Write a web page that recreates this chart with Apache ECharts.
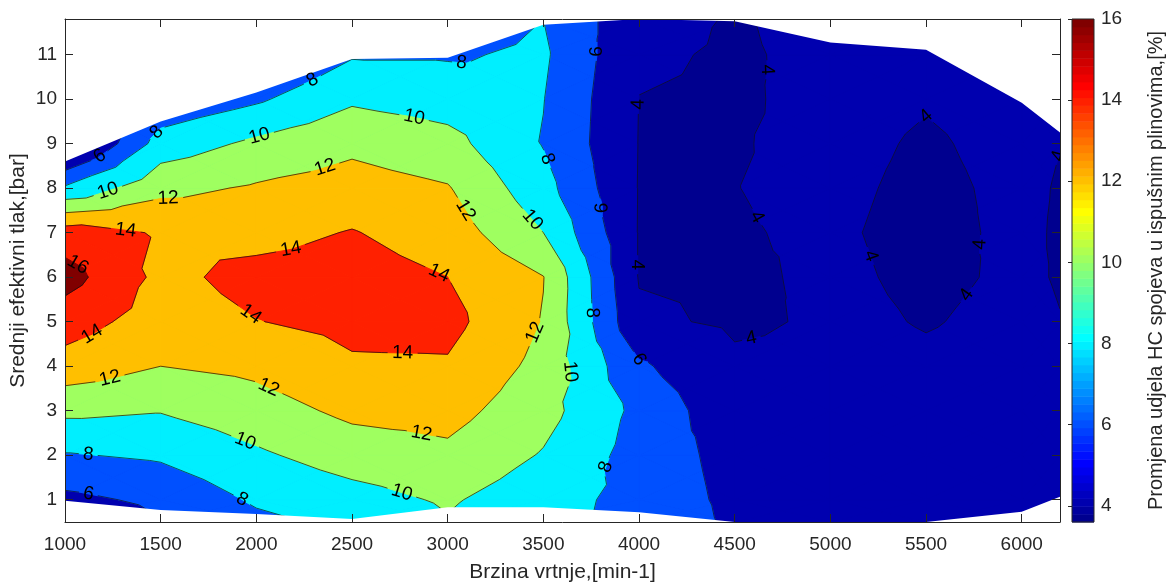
<!DOCTYPE html>
<html>
<head>
<meta charset="utf-8">
<title>Promjena udjela HC spojeva</title>
<script src="https://cdn.jsdelivr.net/npm/echarts@6/dist/echarts.min.js"></script>
<style>
  html, body { margin: 0; padding: 0; background: #fff; }
  #chart { width: 1170px; height: 583px; }
</style>
</head>
<body>
<div id="chart"></div>
<script>
// ---------------------------------------------
//  Data
// ---------------------------------------------

// engine speed, min-1 (grid columns)
const speeds = [1000, 1500, 2000, 2500, 3000, 3500, 4000, 4500, 5000, 5500, 6000, 6200];
// mean effective pressure, bar (grid rows, bottom -> top)
const pressures = [0.5, 1, 2, 3, 4, 5, 6, 7, 8, 9, 10, 11, 11.8];

// HC change [%] along each speed column, one value per pressure row
const hc1000 = [4.3, 5.5, 7.86, 10.44, 13.22, 14.9, 16.8, 15.0, 8.3, 2.5, 2.0, 2.0, 2.0];
const hc1500 = [5.9, 6.4, 8.3, 10.1, 12.0, 13.1, 13.5, 13.8, 11.45, 8.85, 6.4, 4.5, 3.2];
const hc2000 = [7.55, 8.27, 9.7, 11.12, 12.48, 13.95, 14.6, 13.37, 12.22, 10.4, 7.7, 5.5, 4.0];
const hc2500 = [8.4, 9.24, 10.92, 12.46, 13.75, 14.5, 14.8, 14.1, 12.86, 11.54, 9.7, 7.8, 6.3];
const hc3000 = [9.85, 10.24, 11.56, 12.71, 13.78, 14.6, 14.0, 13.07, 12.14, 10.67, 9.1, 7.8, 7.0];
const hc3500 = [8.3, 8.8, 9.85, 10.7, 11.4, 11.9, 12.05, 10.0, 8.7, 7.9, 8.05, 8.3, 8.0];
const hc4000 = [7.7, 7.36, 7.2, 7.5, 6.3, 4.3, 3.9, 3.9, 3.92, 3.95, 3.98, 4.2, 4.5];
const hc4500 = [5.6, 5.5, 5.3, 4.6, 4.3, 3.75, 3.85, 3.95, 3.99, 3.95, 3.88, 3.85, 3.9];
const hc5000 = [4.8, 4.7, 4.6, 4.5, 4.35, 4.2, 4.15, 4.1, 4.15, 4.2, 4.25, 4.3, 4.4];
const hc5500 = [4.6, 4.5, 4.4, 4.3, 4.15, 3.95, 3.85, 3.8, 3.85, 3.92, 4.05, 4.2, 4.3];
const hc6000 = [4.5, 4.5, 4.4, 4.35, 4.3, 4.2, 4.12, 4.15, 4.15, 4.2, 4.25, 4.3, 4.4];
const hc6200 = [4.4, 4.35, 4.3, 4.2, 4.1, 4.02, 3.95, 3.92, 3.95, 4.01, 4.1, 4.2, 4.3];
const hcColumns = [hc1000, hc1500, hc2000, hc2500, hc3000, hc3500, hc4000, hc4500, hc5000, hc5500, hc6000, hc6200];

// edges of the measured region, per speed column
const topEdge = [8.6, 9.5, 10.15, 10.9, 10.93, 11.67, 11.8, 11.75, 11.27, 11.11, 9.92, 9.25];
const bottomEdge = [0.98, 0.77, 0.68, 0.57, 0.83, 0.83, 0.72, 0.5, 0.5, 0.5, 0.73, 1.07];

const levels = [4, 6, 8, 10, 12, 14, 16];
const speedTicks = [1000, 1500, 2000, 2500, 3000, 3500, 4000, 4500, 5000, 5500, 6000];
const pressureTicks = [1, 2, 3, 4, 5, 6, 7, 8, 9, 10, 11];
const colorTicks = [4, 6, 8, 10, 12, 14, 16];
const colorRange = [3.6, 16];

// inline contour labels: [speed, pressure, level]
const labelSpots = [
  [1168, 8.8, 6], [1497, 9.18, 8], [1215, 8.06, 10], [1539, 7.81, 12], [1319, 7.11, 14],
  [1089, 6.44, 16], [1173, 4.48, 14], [1236, 3.7, 12], [1120, 1.94, 8], [1120, 1.07, 6],
  [1916, 0.93, 8], [1937, 2.26, 10], [2052, 3.4, 12], [1958, 5.09, 14], [2183, 6.57, 14],
  [2021, 9.09, 10], [2351, 8.57, 12], [2283, 10.51, 8], [2822, 9.54, 10], [3073, 10.84, 8],
  [2963, 6.17, 14], [2764, 4.19, 14], [2859, 2.39, 12], [2754, 1.07, 10], [3100, 7.52, 12],
  [3424, 4.82, 12], [3443, 7.29, 10], [3644, 3.88, 10], [3471, 8.57, 8], [3759, 5.2, 8],
  [3838, 1.72, 8], [3791, 11.07, 6], [3754, 7.56, 6], [3990, 4.1, 6], [4011, 9.88, 4],
  [3979, 6.28, 4], [4670, 10.66, 4], [4545, 7.18, 4], [4597, 4.42, 4], [5492, 9.7, 4],
  [5199, 6.46, 4], [5723, 6.75, 4], [5718, 5.58, 4], [6131, 8.8, 4]
];

// ---------------------------------------------
//  Helpers
// ---------------------------------------------
const FONT = '"Liberation Sans", Arial, Helvetica, sans-serif';
const INK = '#262626';

// MATLAB style jet(64), i = 1..64
function jetIndex(i) {
  const r = i <= 24 ? 0 : i <= 40 ? (i - 24) / 16 : i <= 56 ? 1 : 1 - (i - 56) / 16;
  const g = i <= 8 ? 0 : i <= 24 ? (i - 8) / 16 : i <= 40 ? 1 : i <= 56 ? (56 - i) / 16 : 0;
  const b = i <= 8 ? (i + 8) / 16 : i <= 24 ? 1 : i <= 40 ? (40 - i) / 16 : 0;
  return 'rgb(' + Math.round(r * 255) + ',' + Math.round(g * 255) + ',' + Math.round(b * 255) + ')';
}
function jetColor(v) {
  const t = (v - colorRange[0]) / (colorRange[1] - colorRange[0]);
  return jetIndex(Math.min(64, Math.max(1, Math.floor(t * 64) + 1)));
}

// keep the part of a polygon where value >= L
function clipAbove(poly, L) {
  const out = [];
  for (let k = 0; k < poly.length; k++) {
    const p = poly[k], q = poly[(k + 1) % poly.length];
    const pin = p[2] >= L, qin = q[2] >= L;
    if (pin) out.push(p);
    if (pin !== qin) {
      const t = (L - p[2]) / (q[2] - p[2]);
      out.push([p[0] + t * (q[0] - p[0]), p[1] + t * (q[1] - p[1]), L]);
    }
  }
  return out;
}

function crossing(tri, L) {
  const hits = [];
  for (let k = 0; k < 3; k++) {
    const p = tri[k], q = tri[(k + 1) % 3];
    if ((p[2] >= L) !== (q[2] >= L)) {
      const t = (L - p[2]) / (q[2] - p[2]);
      hits.push([p[0] + t * (q[0] - p[0]), p[1] + t * (q[1] - p[1])]);
    }
  }
  return hits.length === 2 ? hits : null;
}

function nearestOn(a, b, c) {
  const dx = b[0] - a[0], dy = b[1] - a[1];
  const len2 = dx * dx + dy * dy || 1e-9;
  let t = ((c[0] - a[0]) * dx + (c[1] - a[1]) * dy) / len2;
  t = Math.max(0, Math.min(1, t));
  const x = a[0] + t * dx, y = a[1] + t * dy;
  return { x: x, y: y, d: Math.hypot(x - c[0], y - c[1]) };
}

// remove the bit of each segment inside a circle (gap for the label)
function cutAround(pieces, cx, cy, r) {
  const out = [];
  pieces.forEach(function(seg) {
    const a = seg[0], b = seg[1];
    const dx = b[0] - a[0], dy = b[1] - a[1];
    const fx = a[0] - cx, fy = a[1] - cy;
    const A = dx * dx + dy * dy, B = 2 * (fx * dx + fy * dy), C = fx * fx + fy * fy - r * r;
    const disc = B * B - 4 * A * C;
    if (A < 1e-9 || disc <= 0) { out.push(seg); return; }
    const s = Math.sqrt(disc);
    const t1 = (-B - s) / (2 * A), t2 = (-B + s) / (2 * A);
    if (t2 <= 0 || t1 >= 1) { out.push(seg); return; }
    if (t1 > 0) out.push([a, [a[0] + t1 * dx, a[1] + t1 * dy]]);
    if (t2 < 1) out.push([[a[0] + t2 * dx, a[1] + t2 * dy], b]);
  });
  return out;
}

// ---------------------------------------------
//  Contour drawing
// ---------------------------------------------
function renderContours(params, api) {
  const nodes = speeds.map(function(s, i) {
    return pressures.map(function(p, j) {
      const c = api.coord([s, p]);
      return [c[0], c[1], hcColumns[i][j]];
    });
  });

  const tris = [];
  for (let i = 0; i < speeds.length - 1; i++) {
    for (let j = 0; j < pressures.length - 1; j++) {
      const a = nodes[i][j], b = nodes[i + 1][j], c = nodes[i + 1][j + 1], d = nodes[i][j + 1];
      const m = [0, 1, 2].map(function(k) { return (a[k] + b[k] + c[k] + d[k]) / 4; });
      tris.push([a, b, m], [b, c, m], [c, d, m], [d, a, m]);
    }
  }

  const children = [];

  // lowest band as one sheet, then each band painted over it
  const last = speeds.length - 1, lastRow = pressures.length - 1;
  const sheet = [nodes[0][0], nodes[last][0], nodes[last][lastRow], nodes[0][lastRow]];
  children.push({
    type: 'polygon',
    shape: { points: sheet.map(function(q) { return [q[0], q[1]]; }) },
    style: { fill: jetColor(colorRange[0]) },
    silent: true
  });
  levels.forEach(function(lo) {
    const fill = jetColor(lo);
    tris.forEach(function(t) {
      const poly = clipAbove(t, lo);
      if (poly.length < 3) return;
      children.push({
        type: 'polygon',
        shape: { points: poly.map(function(q) { return [q[0], q[1]]; }) },
        style: { fill: fill, stroke: fill, lineWidth: 1, lineJoin: 'round' },
        silent: true
      });
    });
  });

  // contour segments per level
  const segsByLevel = {};
  levels.forEach(function(L) {
    segsByLevel[L] = [];
    tris.forEach(function(t) {
      const s = crossing(t, L);
      if (s) segsByLevel[L].push(s);
    });
  });

  // place labels on the nearest segment of their level
  const labels = [];
  labelSpots.forEach(function(spot) {
    const c = api.coord([spot[0], spot[1]]);
    const L = spot[2];
    let best = null;
    segsByLevel[L].forEach(function(sg) {
      const q = nearestOn(sg[0], sg[1], c);
      if (!best || q.d < best.d) best = { x: q.x, y: q.y, d: q.d, sg: sg };
    });
    if (!best || best.d > 40) return;
    const a = best.sg[0], b = best.sg[1];
    let ang = Math.atan2(-(b[1] - a[1]), b[0] - a[0]);
    if (ang > Math.PI / 2) ang -= Math.PI;
    if (ang < -Math.PI / 2) ang += Math.PI;
    const txt = String(L);
    labels.push({ x: best.x, y: best.y, ang: ang, txt: txt, L: L, r: txt.length * 5.5 + 4 });
  });

  levels.forEach(function(L) {
    let pieces = segsByLevel[L];
    labels.forEach(function(lb) {
      if (lb.L === L) pieces = cutAround(pieces, lb.x, lb.y, lb.r);
    });
    pieces.forEach(function(sg) {
      children.push({
        type: 'line',
        shape: { x1: sg[0][0], y1: sg[0][1], x2: sg[1][0], y2: sg[1][1] },
        style: { stroke: '#111', lineWidth: 0.7 },
        silent: true
      });
    });
  });

  // blank out everything outside the measured region
  const yMax = pressures[lastRow];
  const yMin = pressures[0];
  const topMask = speeds.map(function(s, i) { return api.coord([s, topEdge[i]]); });
  topMask.push(api.coord([speeds[last], yMax]), api.coord([speeds[0], yMax]));
  const bottomMask = speeds.map(function(s, i) { return api.coord([s, bottomEdge[i]]); });
  bottomMask.push(api.coord([speeds[last], yMin]), api.coord([speeds[0], yMin]));
  [topMask, bottomMask].forEach(function(pts) {
    children.push({ type: 'polygon', shape: { points: pts }, style: { fill: '#fff' }, silent: true });
  });

  labels.forEach(function(lb) {
    children.push({
      type: 'text',
      x: lb.x,
      y: lb.y,
      rotation: lb.ang,
      style: {
        text: lb.txt,
        x: 0,
        y: 0,
        fill: '#000',
        fontSize: 19,
        fontFamily: FONT,
        align: 'center',
        verticalAlign: 'middle'
      },
      silent: true
    });
  });

  return { type: 'group', children: children };
}

// colour bar, 64 cells of jet
function renderColorbar(params, api) {
  const children = [];
  const step = (colorRange[1] - colorRange[0]) / 64;
  for (let k = 0; k < 64; k++) {
    const p0 = api.coord([0, colorRange[0] + k * step]);
    const p1 = api.coord([1, colorRange[0] + (k + 1) * step]);
    children.push({
      type: 'rect',
      shape: { x: p0[0], y: p1[1], width: p1[0] - p0[0], height: p0[1] - p1[1] + 0.5 },
      style: { fill: jetIndex(k + 1) },
      silent: true
    });
  }
  const lo = api.coord([0, colorRange[0]]);
  const hi = api.coord([1, colorRange[1]]);
  children.push({
    type: 'rect',
    shape: { x: lo[0], y: hi[1], width: hi[0] - lo[0], height: lo[1] - hi[1] },
    style: { fill: 'none', stroke: INK, lineWidth: 1 },
    silent: true
  });
  return { type: 'group', children: children };
}

// ---------------------------------------------
//  Chart
// ---------------------------------------------
const chart = echarts.init(document.getElementById('chart'));

const tickStyle = { color: INK, width: 1 };
const lineStyle = { color: INK, width: 1 };
const plain = function(v) { return String(v); };

chart.setOption({
  animation: false,
  backgroundColor: '#fff',
  textStyle: { fontFamily: FONT },
  grid: [
    { left: 65, right: 110, top: 19, bottom: 61, containLabel: false, outerBoundsMode: 'none' },
    { left: 1072, right: 76, top: 19, bottom: 61, containLabel: false, outerBoundsMode: 'none' }
  ],
  xAxis: [
    {
      type: 'value', gridIndex: 0, min: 1000, max: 6200, position: 'bottom', z: 10,
      axisLine: { show: true, onZero: false, lineStyle: lineStyle },
      axisTick: { show: true, inside: true, length: 8, customValues: speedTicks, lineStyle: tickStyle },
      axisLabel: { customValues: speedTicks, formatter: plain, color: INK, fontSize: 19, fontFamily: FONT, margin: 13 },
      splitLine: { show: false },
      name: 'Brzina vrtnje,[min-1]', nameLocation: 'middle', nameGap: 40, nameMoveOverlap: false,
      nameTextStyle: { color: INK, fontSize: 21, fontFamily: FONT }
    },
    {
      type: 'value', gridIndex: 0, min: 1000, max: 6200, position: 'top', z: 10,
      axisLine: { show: true, onZero: false, lineStyle: lineStyle },
      axisTick: { show: true, inside: true, length: 8, customValues: speedTicks, lineStyle: tickStyle },
      axisLabel: { show: false },
      splitLine: { show: false }
    },
    { type: 'value', gridIndex: 1, min: 0, max: 1, show: false }
  ],
  yAxis: [
    {
      type: 'value', gridIndex: 0, min: 0.5, max: 11.8, position: 'left', z: 10,
      axisLine: { show: true, onZero: false, lineStyle: lineStyle },
      axisTick: { show: true, inside: true, length: 8, customValues: pressureTicks, lineStyle: tickStyle },
      axisLabel: { customValues: pressureTicks, formatter: plain, color: INK, fontSize: 19, fontFamily: FONT, margin: 8 },
      splitLine: { show: false },
      name: 'Srednji efektivni tlak,[bar]', nameLocation: 'middle', nameGap: 36, nameRotate: 90,
      nameMoveOverlap: false,
      nameTextStyle: { color: INK, fontSize: 21, fontFamily: FONT }
    },
    {
      type: 'value', gridIndex: 0, min: 0.5, max: 11.8, position: 'right', z: 10,
      axisLine: { show: true, onZero: false, lineStyle: lineStyle },
      axisTick: { show: true, inside: true, length: 8, customValues: pressureTicks, lineStyle: tickStyle },
      axisLabel: { show: false },
      splitLine: { show: false }
    },
    {
      type: 'value', gridIndex: 1, min: colorRange[0], max: colorRange[1], position: 'right', z: 10,
      axisLine: { show: false },
      axisTick: { show: true, inside: true, length: 4, customValues: colorTicks, lineStyle: tickStyle },
      axisLabel: { customValues: colorTicks, formatter: plain, color: INK, fontSize: 19, fontFamily: FONT, margin: 7 },
      splitLine: { show: false },
      name: 'Promjena udjela HC spojeva u ispušnim plinovima,[%]', nameLocation: 'middle',
      nameGap: 52, nameRotate: 90,
      nameTextStyle: { color: INK, fontSize: 20, fontFamily: FONT }
    }
  ],
  series: [
    {
      type: 'custom',
      name: 'HC',
      xAxisIndex: 0,
      yAxisIndex: 0,
      clip: true,
      silent: true,
      renderItem: renderContours,
      data: [[speeds[0], pressures[0]]]
    },
    {
      type: 'custom',
      name: 'colorbar',
      xAxisIndex: 2,
      yAxisIndex: 2,
      silent: true,
      renderItem: renderColorbar,
      data: [[0, colorRange[0]]]
    }
  ]
});
</script>
</body>
</html>
